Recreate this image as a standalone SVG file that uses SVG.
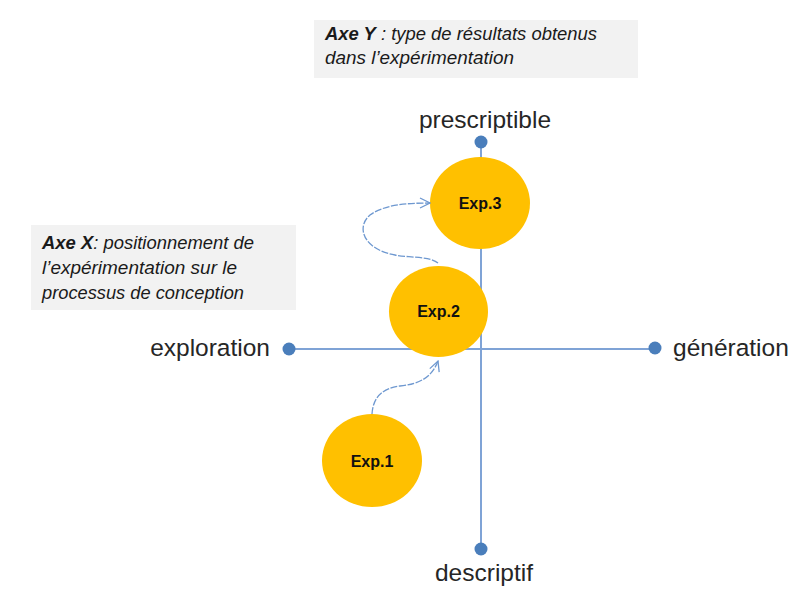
<svg xmlns="http://www.w3.org/2000/svg" width="801" height="597" viewBox="0 0 801 597">
<defs>
<style>
.box{fill:#f2f2f2}
.note{font-family:"Liberation Sans",Arial,sans-serif;font-style:italic;font-size:18px;fill:#1a1a1a}
.note .b{font-weight:bold}
.axis{stroke:#7fa3d6;stroke-width:2;fill:none}
.dot{fill:#4a7ebb}
.lbl{font-family:"Liberation Sans",Arial,sans-serif;font-size:24.5px;fill:#262626}
.exp{fill:#ffc000}
.expt{font-family:"Liberation Sans",Arial,sans-serif;font-weight:bold;font-size:16px;fill:#111;text-anchor:middle}
.arc{stroke:#6e98d0;stroke-width:1.3;fill:none;stroke-dasharray:7 1.5}
</style>
<marker id="ah" viewBox="0 0 12 12" refX="11" refY="6" markerWidth="12" markerHeight="12" markerUnits="userSpaceOnUse" orient="auto">
<path d="M1,1 L11,6 L1,11" fill="none" stroke="#6e98d0" stroke-width="1.3"/>
</marker>
</defs>
<rect width="801" height="597" fill="#ffffff"/>

<g id="noteY">
<rect class="box" x="314" y="20" width="324" height="58"/>
<text class="note" x="325" y="40" textLength="272" lengthAdjust="spacingAndGlyphs"><tspan class="b">Axe Y</tspan> : type de résultats obtenus</text>
<text class="note" x="325" y="64" textLength="189" lengthAdjust="spacingAndGlyphs">dans l’expérimentation</text>
</g>

<g id="noteX">
<rect class="box" x="31" y="225" width="265" height="85"/>
<text class="note" x="42" y="249" textLength="212" lengthAdjust="spacingAndGlyphs"><tspan class="b">Axe X</tspan>: positionnement de</text>
<text class="note" x="42" y="274" textLength="195" lengthAdjust="spacingAndGlyphs">l’expérimentation sur le</text>
<text class="note" x="42" y="299" textLength="202" lengthAdjust="spacingAndGlyphs">processus de conception</text>
</g>

<g id="axes">
<line class="axis" x1="289" y1="349" x2="655" y2="349"/>
<line class="axis" x1="481" y1="142" x2="481" y2="549"/>
</g>

<g id="prescriptible">
<circle class="dot" cx="481" cy="142" r="6.5"/>
<text class="lbl" x="485" y="128" text-anchor="middle">prescriptible</text>
</g>
<g id="descriptif">
<circle class="dot" cx="481" cy="549" r="6.5"/>
<text class="lbl" x="484" y="581" text-anchor="middle">descriptif</text>
</g>
<g id="exploration">
<circle class="dot" cx="289" cy="349" r="6.5"/>
<text class="lbl" x="270" y="356" text-anchor="end">exploration</text>
</g>
<g id="generation">
<circle class="dot" cx="655" cy="348" r="6.5"/>
<text class="lbl" x="673" y="356">génération</text>
</g>

<g id="exp3">
<ellipse class="exp" cx="480" cy="203" rx="50" ry="46"/>
<text class="expt" x="480" y="209">Exp.3</text>
</g>
<g id="exp2">
<ellipse class="exp" cx="438.5" cy="311.5" rx="49.5" ry="45.5"/>
<text class="expt" x="438.5" y="317">Exp.2</text>
</g>
<g id="exp1">
<ellipse class="exp" cx="372" cy="460.5" rx="50" ry="46.5"/>
<text class="expt" x="372" y="467">Exp.1</text>
</g>

<g id="connectors">
<path class="arc" marker-end="url(#ah)" d="M372,414 C373,396 384,388 400,386 C420,384 432,377 438,361"/>
<path class="arc" marker-end="url(#ah)" d="M438,263 C430,256 410,258 395,255 C365,250 355,228 370,215 C385,204 410,203 430,203"/>
</g>
</svg>
